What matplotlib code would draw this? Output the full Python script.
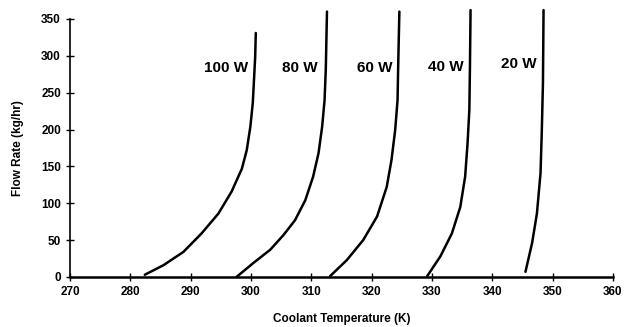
import matplotlib
matplotlib.use("Agg")
from matplotlib import pyplot as plt

plt.rcParams['font.family'] = ['Liberation Sans', 'DejaVu Sans']
plt.rcParams['font.weight'] = 'bold'

# curves: (temperature K, flow kg/hr)
t_100 = [282.4, 285.5, 288.8, 291.8, 294.6, 296.8, 298.5, 299.3, 299.9, 300.3, 300.5, 300.7, 300.8]
f_100 = [3, 16, 34, 59, 86, 116, 147, 172, 204, 236, 267, 299, 331]

t_80 = [297.6, 300.4, 303.2, 305.4, 307.3, 309.0, 310.3, 311.2, 311.8, 312.2, 312.4, 312.6]
f_80 = [0, 19, 37, 57, 77, 104, 136, 168, 204, 240, 281, 360]

t_60 = [313.1, 315.9, 318.6, 320.9, 322.5, 323.3, 323.9, 324.3, 324.4, 324.6]
f_60 = [1, 23, 50, 82, 122, 159, 199, 240, 285, 360]

t_40 = [329.2, 331.4, 333.3, 334.7, 335.5, 335.9, 336.2, 336.3, 336.4]
f_40 = [1, 28, 59, 95, 136, 181, 227, 285, 362]

t_20 = [345.5, 346.6, 347.4, 348.0, 348.2, 348.4, 348.5]
f_20 = [7, 46, 86, 141, 195, 263, 362]

labels = ["100 W", "80 W", "60 W", "40 W", "20 W"]
label_x = [299.6, 311.0, 323.5, 335.3, 347.4]
label_y = [283, 283, 283, 285, 289]

x_ticks = [270, 280, 290, 300, 310, 320, 330, 340, 350, 360]
y_ticks = [0, 50, 100, 150, 200, 250, 300, 350]

fig = plt.figure(figsize=(6.38, 3.27), dpi=100)
ax = fig.add_axes([0.1097, 0.153, 0.851, 0.789])

for t, f in [(t_100, f_100), (t_80, f_80), (t_60, f_60), (t_40, f_40), (t_20, f_20)]:
    ax.plot(t, f, color='black', lw=1.8, clip_on=False,
            solid_joinstyle='round', solid_capstyle='round')

for lab, x, y in zip(labels, label_x, label_y):
    ax.text(x, y, lab, ha='right', va='center', fontsize=11, fontweight='bold')

ax.set_xlim(270, 360)
ax.set_ylim(0, 350)
ax.set_xticks(x_ticks)
ax.set_yticks(y_ticks)
ax.tick_params(direction='inout', length=6, width=1, labelsize=8.5)
ax.spines['top'].set_visible(False)
ax.spines['right'].set_visible(False)
ax.spines['left'].set_linewidth(1.2)
ax.spines['bottom'].set_linewidth(1.8)

ax.set_xlabel("Coolant Temperature (K)", fontsize=8.5, fontweight='bold', labelpad=11)
ax.set_ylabel("Flow Rate (kg/hr)", fontsize=8.5, fontweight='bold', labelpad=12)

plt.savefig("out.png", dpi=100)
